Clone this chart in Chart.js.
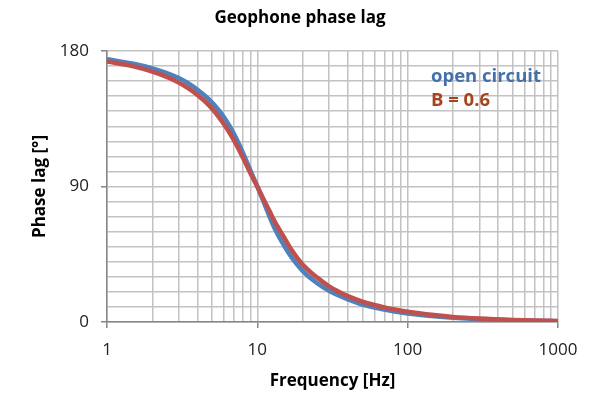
<!DOCTYPE html>
<html>
<head>
<meta charset="utf-8">
<script src="https://cdn.jsdelivr.net/npm/chart.js@4.4.1/dist/chart.umd.min.js"></script>
<style>
html, body { margin: 0; padding: 0; background: #fff; }
#wrap { width: 597px; height: 396px; }
</style>
</head>
<body>
<div id="wrap"><canvas id="chart-fase"></canvas></div>
<script>
// Datos
const frecuencias = [1, 1.5, 2, 2.5, 3, 3.5, 4, 4.5, 5, 5.5, 6, 6.5, 7, 7.5, 8, 8.5, 9, 9.5, 10, 11, 12, 13, 15, 17, 20, 25, 30, 35, 40, 50, 60, 70, 80, 100, 150, 200, 300, 500, 700, 1000];
const faseAbierto = [174.5, 171.5, 168.5, 165.3, 162, 158.3, 154.3, 150.2, 145.8, 141, 136, 130.6, 124.8, 118.8, 112.7, 106.6, 100.6, 95.2, 90, 80, 70.5, 62.5, 51, 42.5, 34, 25.7, 20.7, 17.4, 15, 11.6, 9.6, 8.2, 7.1, 5.6, 3.8, 2.85, 1.9, 1.15, 0.82, 0.57];
const faseB06 = [173, 169.8, 166.3, 162.8, 159, 155, 150.8, 146.3, 141.6, 136.6, 131.3, 126, 120.6, 115, 109.4, 104, 98.8, 94.2, 90, 81.5, 74, 67, 56.5, 47.5, 38.2, 29.5, 23.7, 20, 17.2, 13.6, 11.3, 9.7, 8.5, 6.8, 4.6, 3.4, 2.3, 1.4, 1.0, 0.7];

// Ticks y etiquetas de los ejes
const ticksX = [1, 2, 3, 4, 5, 6, 7, 8, 9, 10, 20, 30, 40, 50, 60, 70, 80, 90, 100, 200, 300, 400, 500, 600, 700, 800, 900, 1000];
const etiquetasX = [1, 10, 100, 1000];
const etiquetasY = [0, 90, 180];

const fuente = '"Open Sans", "DejaVu Sans", sans-serif';

// Título y rótulos de las series
const textosPlugin = {
    id: 'textos',
    afterDraw(chart) {
        const c = chart.ctx;
        c.save();
        c.textBaseline = 'middle';
        c.textAlign = 'center';
        c.fillStyle = '#000';
        c.font = 'bold 17px ' + fuente;
        c.fillText('Geophone phase lag', 300, 18);

        c.textAlign = 'left';
        c.font = 'bold 18.5px ' + fuente;
        c.fillStyle = '#4470ac';
        c.fillText('open circuit', 431, 77);
        c.fillStyle = '#a5451f';
        c.fillText('B = 0.6', 431, 101);
        c.restore();
    }
};

new Chart(document.getElementById('chart-fase'), {
    type: 'line',
    data: {
        datasets: [{
            label: 'open circuit',
            data: frecuencias.map((f, i) => ({ x: f, y: faseAbierto[i] })),
            borderColor: '#4f81bd',
            borderWidth: 4.5,
            pointRadius: 0,
            cubicInterpolationMode: 'monotone',
            order: 2
        }, {
            label: 'B = 0.6',
            data: frecuencias.map((f, i) => ({ x: f, y: faseB06[i] })),
            borderColor: '#c0504d',
            borderWidth: 4.5,
            pointRadius: 0,
            cubicInterpolationMode: 'monotone',
            order: 1
        }]
    },
    options: {
        responsive: true,
        maintainAspectRatio: false,
        animation: false,
        layout: {
            padding: { top: 51, right: 39, left: 0, bottom: 0 }
        },
        plugins: {
            legend: { display: false },
            tooltip: { enabled: false }
        },
        scales: {
            x: {
                type: 'logarithmic',
                min: 1,
                max: 1000,
                afterBuildTicks: scale => {
                    scale.ticks = ticksX.map(v => ({ value: v }));
                },
                afterFit: scale => { scale.height = 74; },
                ticks: {
                    autoSkip: false,
                    maxRotation: 0,
                    padding: 12,
                    color: '#222',
                    font: { family: fuente, size: 17 },
                    callback: v => etiquetasX.includes(v) ? String(v) : ''
                },
                grid: {
                    color: '#c2c2c2',
                    lineWidth: 1.5,
                    tickLength: 6,
                    tickColor: ctx => etiquetasX.includes(ctx.tick.value) ? '#868686' : 'rgba(0,0,0,0)'
                },
                border: { color: '#868686', width: 1.5 },
                title: {
                    display: true,
                    text: 'Frequency [Hz]',
                    color: '#000',
                    font: { family: fuente, size: 17, weight: 'bold' },
                    padding: { top: 0, bottom: 5 }
                }
            },
            y: {
                min: 0,
                max: 180,
                afterFit: scale => { scale.width = 107; },
                ticks: {
                    stepSize: 10,
                    autoSkip: false,
                    padding: 12,
                    color: '#222',
                    font: { family: fuente, size: 17 },
                    callback: v => etiquetasY.includes(v) ? String(v) : ''
                },
                grid: {
                    color: '#c2c2c2',
                    lineWidth: 1.5,
                    tickLength: 6,
                    tickColor: ctx => etiquetasY.includes(ctx.tick.value) ? '#868686' : 'rgba(0,0,0,0)'
                },
                border: { color: '#868686', width: 1.5 },
                title: {
                    display: true,
                    text: 'Phase lag [°]',
                    color: '#000',
                    font: { family: fuente, size: 17, weight: 'bold' },
                    padding: { top: 30, bottom: 0 }
                }
            }
        }
    },
    plugins: [textosPlugin]
});
</script>
</body>
</html>
